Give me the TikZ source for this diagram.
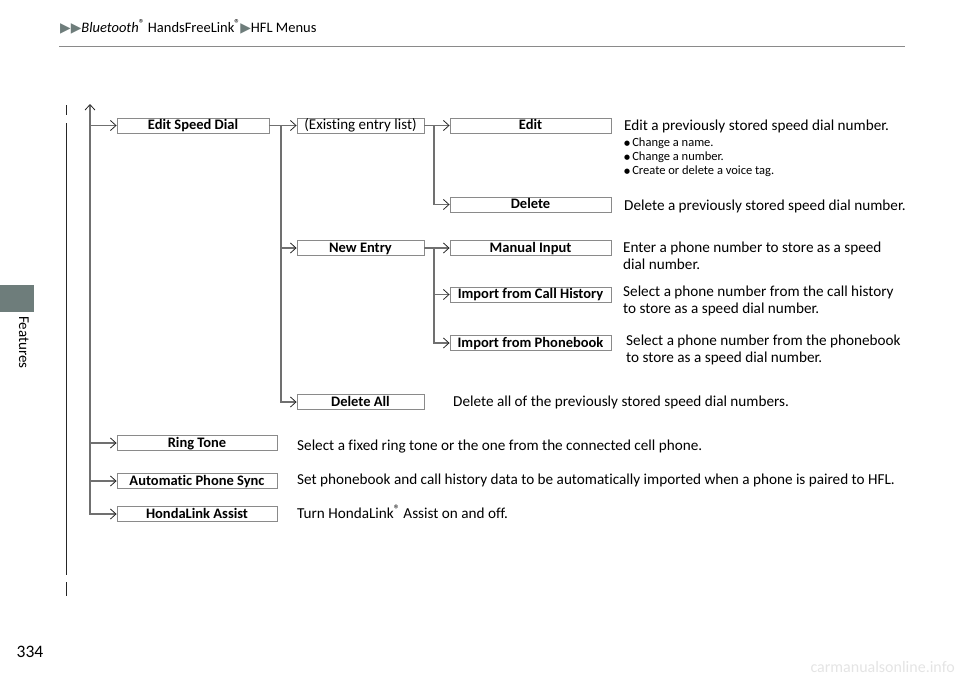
\documentclass[tikz,border=0pt]{standalone}
\usepackage{fontspec}
\setmainfont{Carlito}[Ligatures=CommonOff]
\newfontfamily\symfont{DejaVu Sans}
\usetikzlibrary{arrows.meta}
\definecolor{lineg}{HTML}{707070}
\definecolor{boxg}{HTML}{8A8A8A}
\definecolor{tabg}{HTML}{6E7D7B}
\definecolor{wmark}{HTML}{E4E4E4}
\newcommand{\regm}{\raisebox{0.32em}{\scalebox{0.8}{®}}}
\newcommand{\hdrtri}{{\color{tabg}\symfont\scalebox{0.95}{▶}}}
\newcommand{\bul}{\raisebox{0.12em}{\symfont\scalebox{0.55}{●}}}
\begin{document}
\begin{tikzpicture}[x=1pt,y=-1pt,
  conn/.style={draw=lineg,line width=1.3pt},
  arr/.style={conn,-{Straight Barb[length=5.5pt,width=10pt,line width=0.8pt,color=black!85]}},
  box/.style={draw=boxg,line width=0.9pt,fill=white,minimum height=15pt,inner sep=0pt,
    text height=9pt,text depth=0.6pt,font=\bfseries\fontsize{14.5}{16}\selectfont},
  desc/.style={anchor=base west,inner sep=0pt,align=left,font=\fontsize{15.2}{17}\selectfont},
  sub/.style={anchor=base west,inner sep=0pt,font=\fontsize{12.5}{14}\selectfont}]
\useasboundingbox (0,0) rectangle (960,678);

% header
\node[anchor=base west,inner sep=0pt,font=\fontsize{14.5}{16}\selectfont] (hdr) at (60,32)
  {\hdrtri\hdrtri\textit{Bluetooth}\regm\ HandsFreeLink\regm\hdrtri HFL Menus};
\draw[boxg,line width=1pt] (59,46) -- (905,46);

% side tab and page number
\fill[tabg] (0,285) rectangle (34,312);
\node[rotate=-90,inner sep=0pt,font=\fontsize{15}{17}\selectfont] (tab) at (24,342.5) {Features};
\node[inner sep=0pt,font=\fontsize{17.5}{20}\selectfont] (pnum) at (30,652) {334};
\node[anchor=base east,inner sep=0pt,text=wmark,font=\fontsize{16}{18}\selectfont] (wm) at (955,672) {carmanualsonline.info};

% thin margin line
\draw[black!85,line width=0.8pt] (66,105) -- (66,115) (66,123) -- (66,575) (66,582) -- (66,596);

% level 1
\node[box,minimum width=152pt] (esd) at (193,125.5) {Edit Speed Dial};
\node[box,minimum width=160pt] (rt) at (197,443) {Ring Tone};
\node[box,minimum width=160pt] (aps) at (197,481) {Automatic Phone Sync};
\node[box,minimum width=160pt] (hla) at (197,514) {HondaLink Assist};

% level 2
\node[box,minimum width=127pt,font=\fontsize{15}{17}\selectfont] (eel) at (360.5,125.5) {(Existing entry list)};
\node[box,minimum width=127pt] (ne) at (360.5,248) {New Entry};
\node[box,minimum width=127pt] (da) at (360.5,402) {Delete All};

% level 3
\node[box,minimum width=161pt] (edit) at (530.5,125.5) {Edit};
\node[box,minimum width=161pt] (del) at (530.5,204.5) {Delete};
\node[box,minimum width=161pt] (mi) at (530.5,248) {Manual Input};
\node[box,minimum width=161pt] (ich) at (530.5,294.5) {Import from Call History};
\node[box,minimum width=161pt] (ipb) at (530.5,343) {Import from Phonebook};

% connectors
\coordinate (top) at (90,104);
\draw[conn,{Straight Barb[length=5.5pt,width=10pt,line width=0.8pt,color=black!85]}-{Straight Barb[length=5.5pt,width=10pt,line width=0.8pt,color=black!85]}]
  (top) -- (top |- hla.west) -- (hla.west);
\draw[arr] (top |- esd.west) -- (esd.west);
\draw[arr] (top |- rt.west) -- (rt.west);
\draw[arr] (top |- aps.west) -- (aps.west);

\coordinate (j1) at (281,125.5);
\draw[arr] (esd.east) -- (eel.west);
\draw[arr] (j1) |- (ne.west);
\draw[arr] (j1) |- (da.west);

\coordinate (j2) at (434,125.5);
\draw[arr] (eel.east) -- (edit.west);
\draw[arr] (j2) |- (del.west);

\coordinate (j3) at (434,248);
\draw[arr] (ne.east) -- (mi.west);
\draw[arr] (j3) |- (ich.west);
\draw[arr] (j3) |- (ipb.west);

% descriptions
\node[desc] (dedit) at (624,130) {Edit a previously stored speed dial number.};
\node[sub] (b1) at (624,146.5) {\bul\,Change a name.};
\node[sub] (b2) at (624,160.5) {\bul\,Change a number.};
\node[sub] (b3) at (624,174.5) {\bul\,Create or delete a voice tag.};
\node[desc] (ddel) at (624,210) {Delete a previously stored speed dial number.};
\node[desc] (dmi) at (623,269) {Enter a phone number to store as a speed\\dial number.};
\node[desc] (dich) at (623,313) {Select a phone number from the call history\\to store as a speed dial number.};
\node[desc] (dipb) at (626,362) {Select a phone number from the phonebook\\to store as a speed dial number.};
\node[desc] (dda) at (453,406) {Delete all of the previously stored speed dial numbers.};
\node[desc] (drt) at (297,450) {Select a fixed ring tone or the one from the connected cell phone.};
\node[desc] (daps) at (297,484) {Set phonebook and call history data to be automatically imported when a phone is paired to HFL.};
\node[desc] (dhla) at (297,518) {Turn HondaLink\regm\ Assist on and off.};
\end{tikzpicture}
\end{document}
